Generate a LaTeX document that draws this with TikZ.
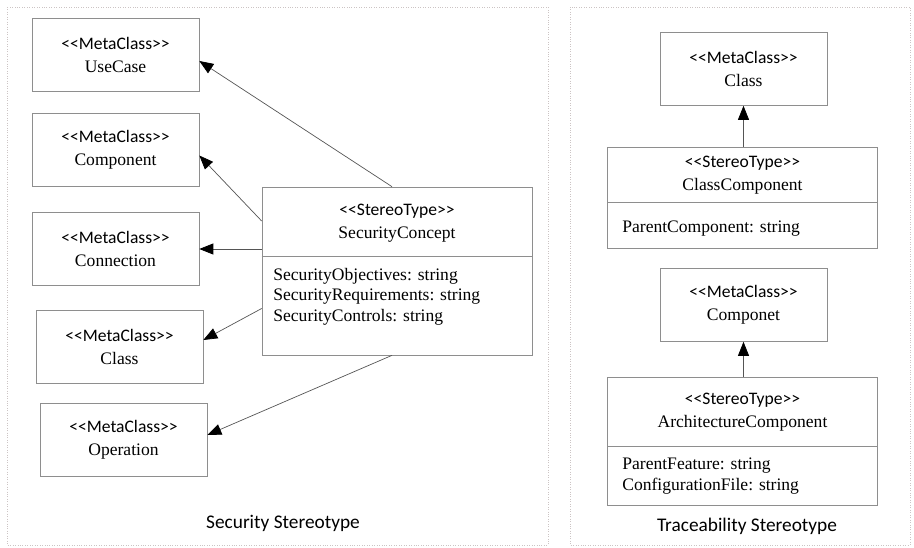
\documentclass[tikz,border=0pt]{standalone}
\usepackage{fontspec}
\setmainfont{Liberation Serif}
\newfontfamily\stereofont{Carlito}
\usetikzlibrary{arrows.meta, positioning, calc}
\definecolor{boxgray}{HTML}{8E8E8E}
\definecolor{linegray}{HTML}{555555}
\definecolor{panelgray}{HTML}{CCC4C4}

% stereotype tag, kerned so << and >> stay as typed
\DeclareTextFontCommand{\textstereo}{\stereofont}
\newcommand{\stereo}[1]{\textstereo{<\kern0pt<#1>\kern0pt>}}

\tikzset{
  metabox/.style={draw=boxgray, minimum width=3.34cm, minimum height=1.46cm, align=center, inner sep=0pt, font=\rmfamily\fontsize{10}{13}\selectfont},
  stereobox/.style={draw=boxgray, inner sep=0pt},
  headtext/.style={align=center, inner sep=0pt, font=\rmfamily\fontsize{10}{13}\selectfont},
  attrtext/.style={anchor=north west, align=left, inner sep=0pt, font=\rmfamily\fontsize{10}{11.6}\selectfont},
  assoc/.style={draw=linegray, -{Triangle[length=0.28cm, width=0.22cm, color=black]}},
  panel/.style={draw=panelgray, densely dotted},
  caption/.style={inner sep=0pt, font=\stereofont\fontsize{11}{11}\selectfont}
}

\begin{document}
\begin{tikzpicture}[x=0.02cm, y=-0.02cm]
  \useasboundingbox (0,0) rectangle (914,548);

  % Panels
  \draw[panel] (7,7) rectangle (548,545);
  \draw[panel] (570,7) rectangle (910,545);

  % Security stereotype: meta classes
  \node[metabox] (usecase) at (115.5,55) {\stereo{MetaClass}\\\rmfamily UseCase};
  \node[metabox] (component) at (115.5,149.5) {\stereo{MetaClass}\\\rmfamily Component};
  \node[metabox] (connection) at (115.5,249) {\stereo{MetaClass}\\\rmfamily Connection};
  \node[metabox] (classL) at (119.5,347) {\stereo{MetaClass}\\\rmfamily Class};
  \node[metabox] (operation) at (123.5,440) {\stereo{MetaClass}\\\rmfamily Operation};

  % Security stereotype: SecurityConcept
  \node[stereobox, minimum width=5.4cm, minimum height=3.36cm] (secconcept) at (397,271) {};
  \draw[boxgray] ([yshift=-1.4cm]secconcept.north west) -- ([yshift=-1.4cm]secconcept.north east);
  \node[headtext] (secconcepthead) at (397,223) {\stereo{StereoType}\\\rmfamily SecurityConcept};
  \node[attrtext] (secconceptattr) at (273,268) {SecurityObjectives: string\\SecurityRequirements: string\\SecurityControls: string};

  % Associations
  \draw[assoc] ([xshift=-0.1cm]secconcept.north) -- ([yshift=-0.12cm]usecase.east);
  \draw[assoc] ([yshift=1.0cm]secconcept.west) -- ([yshift=-0.12cm]component.east);
  \draw[assoc] (connection.east -| secconcept.west) -- (connection.east);
  \draw[assoc] ([yshift=-0.75cm]secconcept.west) -- ([yshift=0.14cm]classL.east);
  \draw[assoc] ([xshift=-0.1cm]secconcept.south) -- ([yshift=0.1cm]operation.east);

  \node[caption] (seccaption) at (283,523) {Security Stereotype};

  % Traceability stereotype
  \node[metabox] (classR) at (743.5,69) {\stereo{MetaClass}\\\rmfamily Class};
  \node[stereobox, minimum width=5.4cm, minimum height=2.02cm] (classcomp) at (742.5,197.5) {};
  \draw[boxgray] ([yshift=-1.12cm]classcomp.north west) -- ([yshift=-1.12cm]classcomp.north east);
  \node[headtext] (classcomphead) at (742.5,175) {\stereo{StereoType}\\\rmfamily ClassComponent};
  \node[attrtext] (classcompattr) at (622,221) {ParentComponent: string};

  \node[metabox] (componet) at (743.5,305) {\stereo{MetaClass}\\\rmfamily Componet};
  \node[stereobox, minimum width=5.4cm, minimum height=2.56cm] (archcomp) at (742.5,441) {};
  \draw[boxgray] ([yshift=-1.4cm]archcomp.north west) -- ([yshift=-1.4cm]archcomp.north east);
  \node[headtext] (archcomphead) at (742.5,412) {\stereo{StereoType}\\\rmfamily ArchitectureComponent};
  \node[attrtext] (archcompattr) at (622,458) {ParentFeature: string\\ConfigurationFile: string};

  % Generalisations
  \draw[assoc] (classcomp.north -| classR.south) -- (classR.south);
  \draw[assoc] (archcomp.north -| componet.south) -- (componet.south);

  \node[caption] (tracecaption) at (747,526) {Traceability Stereotype};
\end{tikzpicture}
\end{document}
